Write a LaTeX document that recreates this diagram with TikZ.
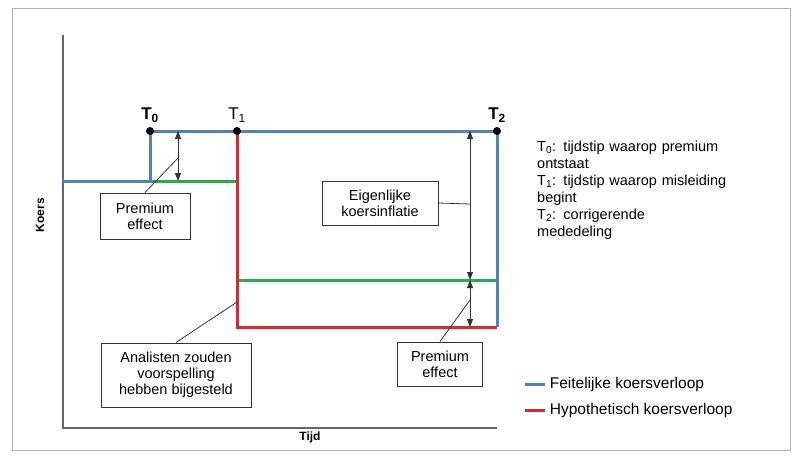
\documentclass[tikz,border=0pt]{standalone}
\usepackage{fontspec}
\setmainfont{Liberation Sans}
\usetikzlibrary{arrows.meta}
\definecolor{cblue}{RGB}{79,129,189}
\definecolor{cred}{RGB}{220,40,40}
\definecolor{cgreen}{RGB}{40,170,80}
\tikzset{
 blu/.style={cblue,line width=3pt},
 rd/.style={cred,line width=3pt},
 grn/.style={cgreen,line width=3pt},
 box/.style={draw=black!80,line width=1pt,fill=white,align=center,font=\fontsize{14.5}{16}\selectfont,inner sep=3pt},
 dim/.style={black!80,line width=0.8pt,{Triangle[length=8pt,width=6pt]}-{Triangle[length=8pt,width=6pt]}},
 lead/.style={black!80,line width=0.8pt},
 dot/.style={circle,fill=black,inner sep=0pt,minimum size=8pt},
 lbl/.style={font=\fontsize{14.5}{17}\selectfont,align=left,anchor=north west,text width=260pt,inner sep=0pt},
 leg/.style={right,black,font=\fontsize{15.5}{17}\selectfont}
}
\begin{document}
\begin{tikzpicture}[x=1pt,y=-1pt]
\useasboundingbox (0,0) rectangle (800,467);
\draw[black!30] (12,8) rectangle (790,450);
\draw[black!60,line width=1.5pt] (63,35) -- (63,428) -- (497,428);
\node[rotate=90,font=\bfseries\fontsize{12}{14}\selectfont] (ky) at (40,215) {Koers};
\node[font=\bfseries\fontsize{12}{14}\selectfont] (tx) at (310,437) {Tijd};
% lines
\draw[grn] (150,181) -- (237,181);
\draw[grn] (237,280) -- (497,280);
\draw[rd] (237,131) -- (237,327) -- (497,327);
\draw[blu] (63,181) -- (150,181) -- (150,131) -- (497,131) -- (497,327);
\node[dot] (t0) at (150,131) {};
\node[dot] (t1) at (237,131) {};
\node[dot] (t2) at (497,131) {};
\node[font=\bfseries\fontsize{17}{19}\selectfont,above=1pt] (l0) at (t0.north) {T\textsubscript{0}};
\node[font=\fontsize{17}{19}\selectfont,above=1pt] (l1) at (t1.north) {T\textsubscript{1}};
\node[font=\bfseries\fontsize{17}{19}\selectfont,above=1pt] (l2) at (t2.north) {T\textsubscript{2}};
% dims
\coordinate (a1) at (178,131); \coordinate (a2) at (178,181);
\draw[dim] (a1) -- (a2);
\coordinate (b1) at (470,131); \coordinate (b2) at (470,280); \coordinate (b3) at (470,327);
\draw[dim] (b1) -- (b2);
\draw[dim] (b2) -- (b3);
\node[box,minimum width=90pt,minimum height=46pt] (p1) at (145,216) {Premium\\effect};
\node[box,minimum width=116pt,minimum height=44pt] (ek) at (380,203) {Eigenlijke\\koersinflatie};
\node[box,minimum width=85pt,minimum height=44pt] (p2) at (440,364) {Premium\\effect};
\node[box,minimum width=150pt,minimum height=64pt] (an) at (176,375) {Analisten zouden\\voorspelling\\hebben bijgesteld};
\coordinate (m1) at (178,158);
\draw[lead] (p1.north) -- (m1);
\coordinate (m2) at (470,204);
\draw[lead] (ek.east) -- (m2);
\coordinate (m3) at (470,300);
\draw[lead] (p2.north) -- (m3);
\coordinate (m4) at (237,302);
\draw[lead] (an.north) -- (m4);
% legend text
\node[lbl] (txt) at (537,141) {T\textsubscript{0}: tijdstip waarop premium\\ontstaat\\T\textsubscript{1}: tijdstip waarop misleiding\\begint\\T\textsubscript{2}: corrigerende\\mededeling};
\coordinate (f1) at (525,384); \coordinate (f2) at (545,384);
\draw[blu] (f1) -- (f2) node[leg] (fl) {Feitelijke koersverloop};
\coordinate (h1) at (525,410); \coordinate (h2) at (545,410);
\draw[rd] (h1) -- (h2) node[leg] (hl) {Hypothetisch koersverloop};
\end{tikzpicture}
\end{document}
